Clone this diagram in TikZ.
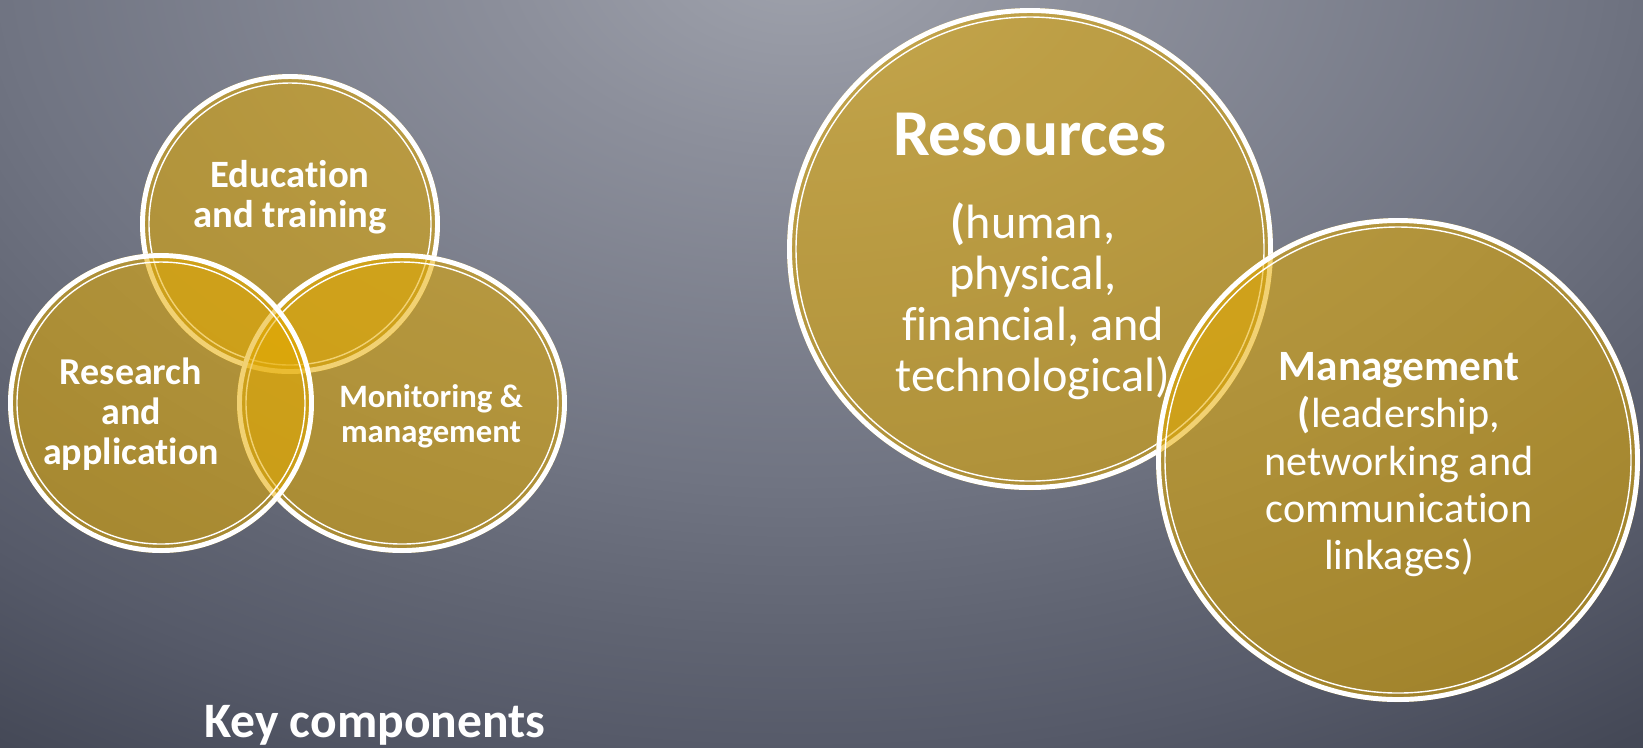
\documentclass[tikz,border=0pt]{standalone}
\usepackage{fontspec}
\setmainfont{Carlito}[Ligatures=NoCommon]
\usetikzlibrary{positioning}
\definecolor{slateLight}{RGB}{160,163,173}
\definecolor{slateMid}{RGB}{140,143,155}
\definecolor{slateSoft}{RGB}{112,116,130}
\definecolor{slateDusk}{RGB}{96,100,114}
\definecolor{slateDark}{RGB}{86,90,105}
\definecolor{slateDeep}{RGB}{68,72,86}
\definecolor{venngold}{RGB}{230,172,0}
\pgfdeclareradialshading{slatebg}{\pgfpoint{0bp}{0bp}}{color(0bp)=(slateLight); color(3.75bp)=(slateMid); color(10bp)=(slateSoft); color(12.9bp)=(slateDusk); color(15bp)=(slateDark); color(18.1bp)=(slateDeep); color(50bp)=(slateDeep)}

\begin{document}
\begin{tikzpicture}[x=0.01cm, y=-0.01cm,
  lbl/.style={text=white, align=center, inner sep=0pt, anchor=north},
  venn/.style={fill=venngold, fill opacity=.55},
  rimthick/.style={draw=white, line width=1.4pt},
  rimthin/.style={draw=white, line width=0.4pt}]
  \useasboundingbox (0,0) rectangle (1643,747);
  \begin{scope}
    \clip (0,0) rectangle (1643,747);
    \shade[shading=slatebg] (800,-50) ellipse [x radius=2000, y radius=1333];
  \end{scope}

  % circles: top, right, left, resources
  \foreach \cx/\cy/\rx/\ry in {290/224/150/150, 402/403/165/150, 161/403/153/150, 1030/249/243/241}{
    \fill[venn] (\cx,\cy) ellipse [x radius=\rx, y radius=\ry];
    \draw[rimthick] (\cx,\cy) ellipse [x radius=\rx-2.5, y radius=\ry-2.5];
    \draw[rimthin] (\cx,\cy) ellipse [x radius=\rx-9, y radius=\ry-9];
  }

  \node[lbl, font=\bfseries\fontsize{11}{11.4}\selectfont] (edu) at (290,160) {Education\\and training};
  \node[lbl, font=\bfseries\fontsize{10.8}{11.4}\selectfont] (res) at (131,357) {Research\\and\\application};
  \node[lbl, font=\bfseries\fontsize{9.3}{10}\selectfont] (mon) at (431,384) {Monitoring \&\\management};

  \node[lbl, font=\bfseries\fontsize{18.6}{20}\selectfont] (rsrc) at (1030,112) {Resources};
  \node[lbl, font=\fontsize{13.7}{14.5}\selectfont] (rsrcText) at (1033,202) {{\bfseries(}human,\\physical,\\financial, and\\technological)};

  % management circle on top
  \fill[venn] (1398,460) ellipse [x radius=242, y radius=242];
  \draw[rimthick] (1398,460) ellipse [x radius=239.5, y radius=239.5];
  \draw[rimthin] (1398,460) ellipse [x radius=233, y radius=233];

  \node[lbl, font=\fontsize{12}{13.4}\selectfont] (mgmt) at (1399,352) {\textbf{\fontsize{12.3}{13.4}\selectfont Management}\\{\bfseries(}leadership,\\networking and\\communication\\linkages)};

  \node[lbl, font=\bfseries\fontsize{14.1}{16}\selectfont] (key) at (375,705) {Key components};
\end{tikzpicture}
\end{document}
